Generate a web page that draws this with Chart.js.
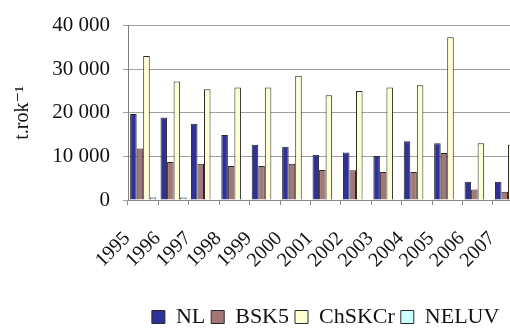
<!DOCTYPE html>
<html>
<head>
<meta charset="utf-8">
<script src="https://cdn.jsdelivr.net/npm/chart.js@4"></script>
<style>
  html, body { margin: 0; padding: 0; background: #fff; overflow: hidden; }
  #wrap { width: 510px; height: 329px; overflow: hidden; position: relative; }
  canvas { display: block; }
</style>
</head>
<body>
<div id="wrap"><canvas id="c" width="547" height="338" style="width:547px;height:338px"></canvas></div>
<script>
const years = ['1995','1996','1997','1998','1999','2000','2001','2002','2003','2004','2005','2006','2007'];
const seriesNames = ['NL', 'BSK5', 'ChSKCr', 'NELUV'];
const nl     = [19700, 18900, 17500, 14900, 12700, 12200, 10400, 10900, 10100, 13500, 13000, 4200, 4200];
const bsk5   = [11800,  8700,  8300,  7800,  7800,  8300,  6900,  6800,  6400,  6400, 10800, 2400, 1900];
const chskcr = [33000, 27200, 25400, 25800, 25800, 28500, 24000, 25000, 25800, 26300, 37300, 13000, 12700];
const neluv  = [  600,   600,     0,     0,     0,     0,     0,     0,     0,     0,     0,    0,    0];
const yTickValues = [0, 10000, 20000, 30000, 40000];
const yTitle = 't.rok\u207B\u00B9';

const fillColors = ['#30309a', '#a47676', '#ffffd4', '#ccffff'];
const serif = "'Liberation Serif', 'Times New Roman', 'DejaVu Serif', serif";

function fmt(v) {
  return String(v).replace(/\B(?=(\d{3})+(?!\d))/g, ' ');
}

const dataSeries = [nl, bsk5, chskcr, neluv];

new Chart(document.getElementById('c'), {
  type: 'bar',
  data: {
    labels: years,
    datasets: dataSeries.map((d, i) => ({
      label: seriesNames[i],
      data: d,
      backgroundColor: fillColors[i],
      borderColor: '#2a2a2a',
      borderWidth: 1,
      categoryPercentage: 0.86,
      barPercentage: 1.0
    }))
  },
  options: {
    responsive: false,
    maintainAspectRatio: false,
    animation: false,
    devicePixelRatio: 1,
    layout: { padding: { top: 20, left: 0, right: 0, bottom: 0 } },
    plugins: {
      tooltip: { enabled: false },
      legend: {
        position: 'bottom',
        fullSize: false,
        labels: {
          font: { family: serif, size: 22 },
          color: '#111',
          boxWidth: 13,
          boxHeight: 13,
          padding: 6
        }
      }
    },
    scales: {
      x: {
        afterFit: s => { s.height = 100; },
        grid: {
          offset: true,
          drawOnChartArea: false,
          drawTicks: true,
          tickLength: 5,
          color: '#888'
        },
        border: { color: '#888', width: 1 },
        ticks: {
          minRotation: 45,
          maxRotation: 45,
          autoSkip: false,
          padding: 22,
          labelOffset: -16,
          color: '#111',
          font: { family: serif, size: 20 }
        }
      },
      y: {
        min: 0,
        max: 40000,
        afterFit: s => { s.width = 128; },
        afterBuildTicks: s => { s.ticks = yTickValues.map(v => ({ value: v })); },
        grid: {
          color: '#a0a0a0',
          tickLength: 5,
          drawTicks: true
        },
        border: { color: '#808080', width: 1 },
        ticks: {
          padding: 13,
          color: '#111',
          font: { family: serif, size: 21 },
          callback: v => fmt(v)
        },
        title: {
          display: true,
          text: yTitle,
          color: '#111',
          font: { family: serif, size: 20 },
          padding: { top: 11, bottom: 0 }
        }
      }
    }
  }
});
</script>
</body>
</html>
